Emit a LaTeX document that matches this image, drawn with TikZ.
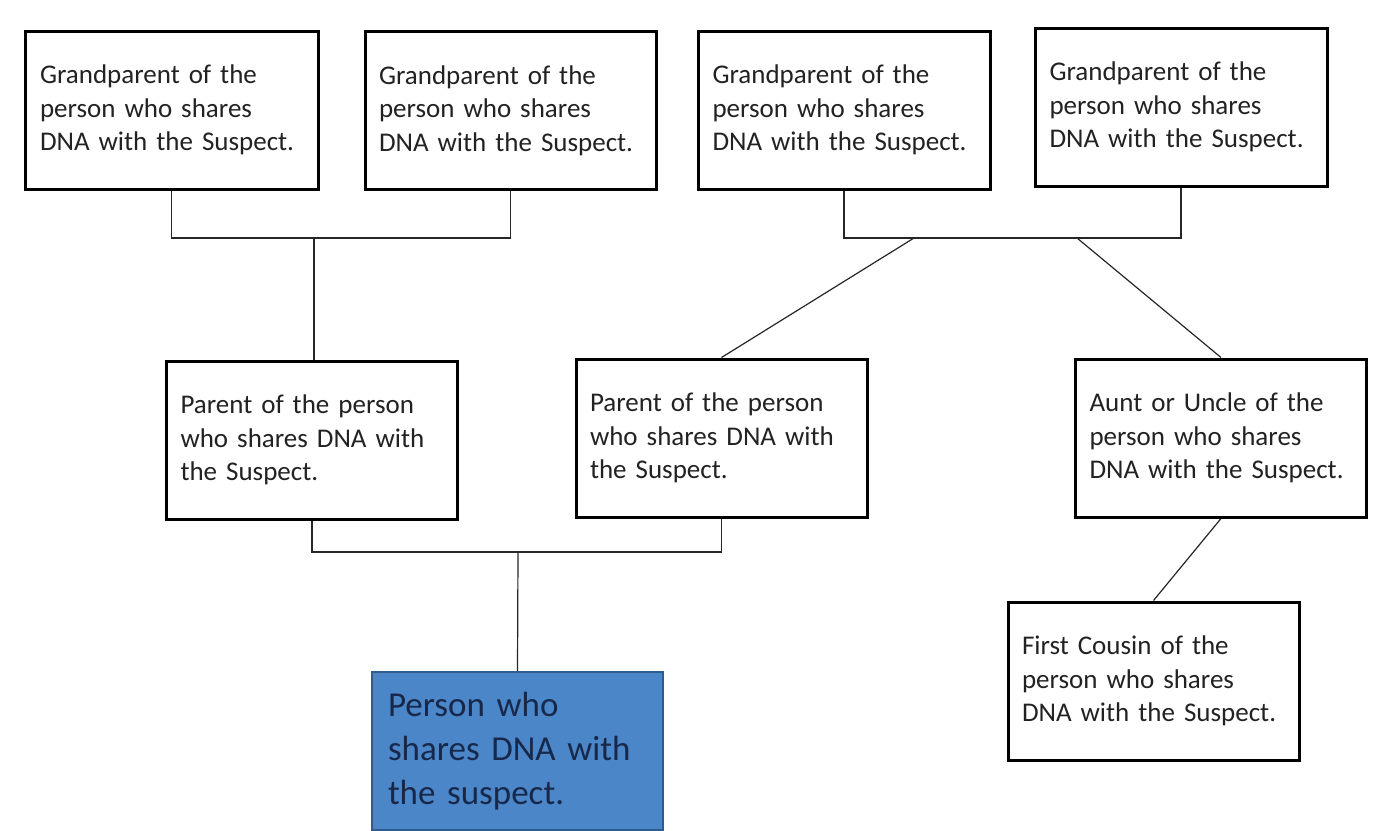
\documentclass[tikz,border=0pt]{standalone}
\usepackage{fontspec}
\setmainfont{Carlito}
\definecolor{inkgrey}{HTML}{222222}
\definecolor{selfblue}{HTML}{4A86C8}
\definecolor{selfedge}{HTML}{2E5C8E}
\definecolor{selftext}{HTML}{17284A}
\begin{document}
\begin{tikzpicture}[x=1pt,y=-1pt,
  kin/.style={draw=black, line width=3pt, fill=white, align=left,
    minimum width=291pt, minimum height=158pt, text width=263pt,
    inner xsep=14pt, inner ysep=0pt, text=inkgrey,
    font=\fontsize{27}{33.5}\selectfont},
  self/.style={draw=selfedge, line width=2.2pt, fill=selfblue, align=left,
    minimum width=291pt, minimum height=158pt, text width=259pt,
    inner xsep=16pt, inner ysep=0pt, text=selftext,
    font=\fontsize{35}{44}\selectfont},
  link/.style={draw=black!85, line width=1.2pt}]
\useasboundingbox (0,0) rectangle (1373,830);
\fill[white] (0,0) rectangle (1373,830);

% grandparents
\node[kin, minimum width=293pt] (g1) at (171.5,110)
  {Grandparent of the\\person who shares\\DNA with the Suspect.};
\node[kin] (g2) at (510.5,110.5)
  {Grandparent of the\\person who shares\\DNA with the Suspect.};
\node[kin, minimum width=292pt] (g3) at (844,110)
  {Grandparent of the\\person who shares\\DNA with the Suspect.};
\node[kin, minimum width=292pt] (g4) at (1181,107)
  {Grandparent of the\\person who shares\\DNA with the Suspect.};

% parents, aunt/uncle
\node[kin, minimum width=290pt] (p1) at (312,440)
  {Parent of the person\\who shares DNA with\\the Suspect.};
\node[kin] (p2) at (721.5,438)
  {Parent of the person\\who shares DNA with\\the Suspect.};
\node[kin, minimum width=290pt] (au) at (1221,438)
  {Aunt or Uncle of the\\person who shares\\DNA with the Suspect.};

% cousin
\node[kin] (fc) at (1153.5,681)
  {First Cousin of the\\person who shares\\DNA with the Suspect.};

% the person
\node[self] (me) at (517.5,751)
  {Person who\\shares DNA with\\the suspect.};

% couple bars and descent lines
\coordinate (a1) at (0,238);
\coordinate (am) at (314,238);
\draw[link] (g1.south) -- (g1.south |- a1) -- (g2.south |- a1) -- (g2.south);
\draw[link] (am) -- (am |- p1.north);

\coordinate (bl) at (914,238);
\coordinate (br) at (1077,238);
\draw[link] (g3.south) -- (g3.south |- a1) -- (g4.south |- a1) -- (g4.south);
\draw[link] (bl) -- (p2.north);
\draw[link] (br) -- (au.north);

\coordinate (c0) at (0,552);
\coordinate (cm) at (518,552);
\draw[link] (p1.south) -- (p1.south |- c0) -- (p2.south |- c0) -- (p2.south);
\draw[link] (cm) -- (me.north);

\draw[link] (au.south) -- (fc.north);
\end{tikzpicture}
\end{document}
